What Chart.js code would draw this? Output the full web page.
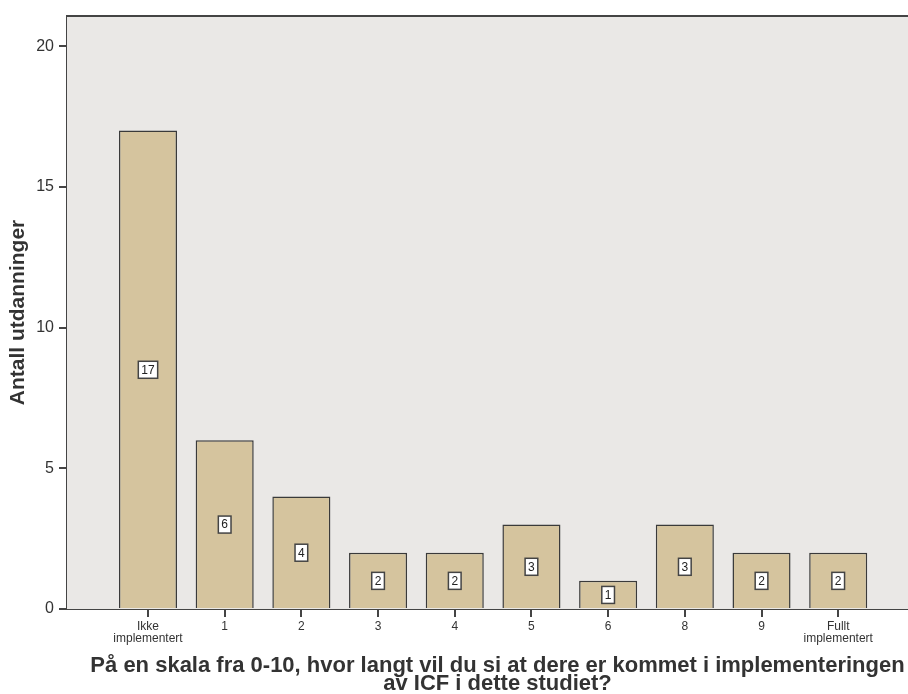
<!DOCTYPE html>
<html>
<head>
<meta charset="utf-8">
<script src="https://cdn.jsdelivr.net/npm/chart.js@4.4.1/dist/chart.umd.min.js"></script>
<style>
  html, body { margin: 0; padding: 0; background: #fff; }
  #wrap { width: 908px; height: 694px; }
</style>
</head>
<body>
<div id="wrap"><canvas id="chart"></canvas></div>
<script>
// categories and counts
const categories = [['Ikke', 'implementert'], '1', '2', '3', '4', '5', '6', '8', '9', ['Fullt', 'implementert']];
const counts = [17, 6, 4, 2, 2, 3, 1, 3, 2, 2];
const yTicks = [0, 5, 10, 15, 20];
const xTitle = ['På en skala fra 0-10, hvor langt vil du si at dere er kommet i implementeringen', 'av ICF i dette studiet?'];

const plotBg = '#eae8e6';
const barFill = '#d5c49e';
const lineColor = '#444';

// plot background, top border, value boxes and the x axis title
const plotDecor = {
  id: 'plotDecor',
  beforeDatasetsDraw(chart) {
    const { ctx, chartArea: a } = chart;
    ctx.save();
    ctx.fillStyle = plotBg;
    ctx.fillRect(a.left, a.top, a.right - a.left, a.bottom - a.top);
    ctx.strokeStyle = lineColor;
    ctx.lineWidth = 2;
    ctx.beginPath();
    ctx.moveTo(a.left, a.top);
    ctx.lineTo(a.right, a.top);
    ctx.stroke();
    ctx.restore();
  },
  afterDatasetsDraw(chart) {
    const { ctx } = chart;
    const meta = chart.getDatasetMeta(0);
    const y = chart.scales.y;
    ctx.save();
    ctx.font = '12px "Liberation Sans", Arial, sans-serif';
    ctx.textAlign = 'center';
    ctx.textBaseline = 'middle';
    meta.data.forEach((bar, i) => {
      const txt = String(counts[i]);
      const cy = y.getPixelForValue(counts[i] / 2);
      const w = ctx.measureText(txt).width + 6;
      const h = 17;
      ctx.fillStyle = '#fff';
      ctx.fillRect(bar.x - w / 2, cy - h / 2, w, h);
      ctx.strokeStyle = lineColor;
      ctx.lineWidth = 1.5;
      ctx.strokeRect(bar.x - w / 2, cy - h / 2, w, h);
      ctx.fillStyle = '#222';
      ctx.fillText(txt, bar.x, cy + 0.5);
    });
    ctx.restore();
  },
  afterDraw(chart) {
    const { ctx, chartArea: a } = chart;
    ctx.save();
    ctx.font = 'bold 22px "Liberation Sans", Arial, sans-serif';
    ctx.fillStyle = '#333';
    ctx.textAlign = 'center';
    ctx.textBaseline = 'alphabetic';
    const cx = (a.left + a.right) / 2 + 10;
    ctx.fillText(xTitle[0], cx, 672);
    ctx.fillText(xTitle[1], cx, 690);
    ctx.restore();
  }
};

new Chart(document.getElementById('chart'), {
  type: 'bar',
  data: {
    datasets: [{
      data: counts.map((v, i) => ({ x: i, y: v })),
      backgroundColor: barFill,
      borderColor: '#3a3a3a',
      borderWidth: 1.5,
      barPercentage: 0.757,
      categoryPercentage: 1
    }]
  },
  options: {
    responsive: true,
    maintainAspectRatio: false,
    animation: false,
    layout: { padding: { top: 16, right: 0, left: 0, bottom: 0 } },
    plugins: { legend: { display: false }, tooltip: { enabled: false } },
    scales: {
      x: {
        type: 'linear',
        offset: false,
        min: -1.056,
        max: 9.91,
        afterBuildTicks: s => { s.ticks = categories.map((_, i) => ({ value: i })); },
        afterFit: s => { s.height = 85; },
        grid: { offset: false, drawOnChartArea: false, drawTicks: true, tickLength: 8, color: lineColor, lineWidth: 2 },
        border: { color: lineColor, width: 2 },
        ticks: {
          autoSkip: false,
          maxRotation: 0,
          padding: 3,
          color: '#333',
          font: { family: '"Liberation Sans", Arial, sans-serif', size: 12, lineHeight: 1.05 },
          callback: v => categories[v]
        }
      },
      y: {
        min: 0,
        max: 21.07,
        afterBuildTicks: s => { s.ticks = yTicks.map(v => ({ value: v })); },
        afterFit: s => { s.width = 67; },
        grid: { drawOnChartArea: false, drawTicks: true, tickLength: 8, color: lineColor, lineWidth: 2 },
        border: { color: lineColor, width: 2 },
        ticks: {
          padding: 5,
          color: '#333',
          font: { family: '"Liberation Sans", Arial, sans-serif', size: 16 }
        },
        title: {
          display: true,
          text: 'Antall utdanninger',
          color: '#333',
          font: { family: '"Liberation Sans", Arial, sans-serif', size: 21, weight: 'bold' },
          padding: { top: 6, bottom: 0 }
        }
      }
    }
  },
  plugins: [plotDecor]
});
</script>
</body>
</html>
